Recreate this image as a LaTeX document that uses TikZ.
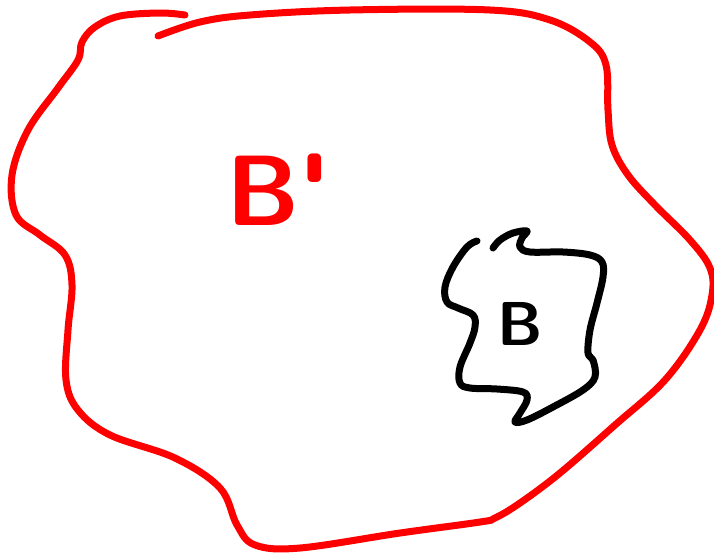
\documentclass[tikz,border=0pt]{standalone}
\usepackage{xcolor}
\usepackage{tikz}
\usetikzlibrary{positioning}

\begin{document}
\begin{tikzpicture}[
    x=1pt, y=-1pt,
    pen/.style    = {line width=7pt, line cap=round, line join=round},
    outer/.style  = {pen, draw=red},
    inner/.style  = {pen, draw=black},
    lbl/.style    = {font=\sffamily\bfseries, inner sep=0pt},
]
\useasboundingbox (0,0) rectangle (714,557);

%--- big red region
\draw[outer] plot[smooth, tension=0.6] coordinates {
    (158,36) (200,22) (250,15) (350,10) (490,10) (550,20) (590,42)
    (606,65) (608,110) (612,145) (628,175) (655,205) (690,240)
    (710,268) (712,295) (700,330) (665,380) (615,425) (560,473)
    (520,503) (495,518) (480,522) (400,533) (300,548) (255,545)
    (237,525) (220,488) (175,458) (110,435) (78,410) (66,380)
    (68,330) (72,285) (65,255) (40,235) (16,215) (12,175) (28,130)
    (58,88) (78,60) (82,42) (95,27) (120,16) (160,13) (185,15)};

%--- small black region inside
\draw[inner] plot[smooth, tension=0.6] coordinates {
    (477,241) (467,247) (453,267) (445,287) (447,302) (458,308)
    (473,315) (475,327) (470,343) (460,367) (460,383) (470,388)
    (497,389) (523,392) (527,400) (520,413) (515,422) (527,420)
    (553,407) (583,390) (595,377) (593,360) (588,353) (590,330)
    (597,303) (603,277) (602,262) (590,255) (563,252) (530,252)
    (520,247) (522,238) (527,231) (513,233) (500,240) (493,248)};

%--- labels
\node[lbl, text=red, font=\sffamily\bfseries\fontsize{100}{100}\selectfont]
    (bprime) at (278,190) {B\textquotesingle};
\node[lbl, text=black, font=\sffamily\bfseries\fontsize{62}{62}\selectfont]
    (bsmall) at (520,324) {B};

\end{tikzpicture}
\end{document}
